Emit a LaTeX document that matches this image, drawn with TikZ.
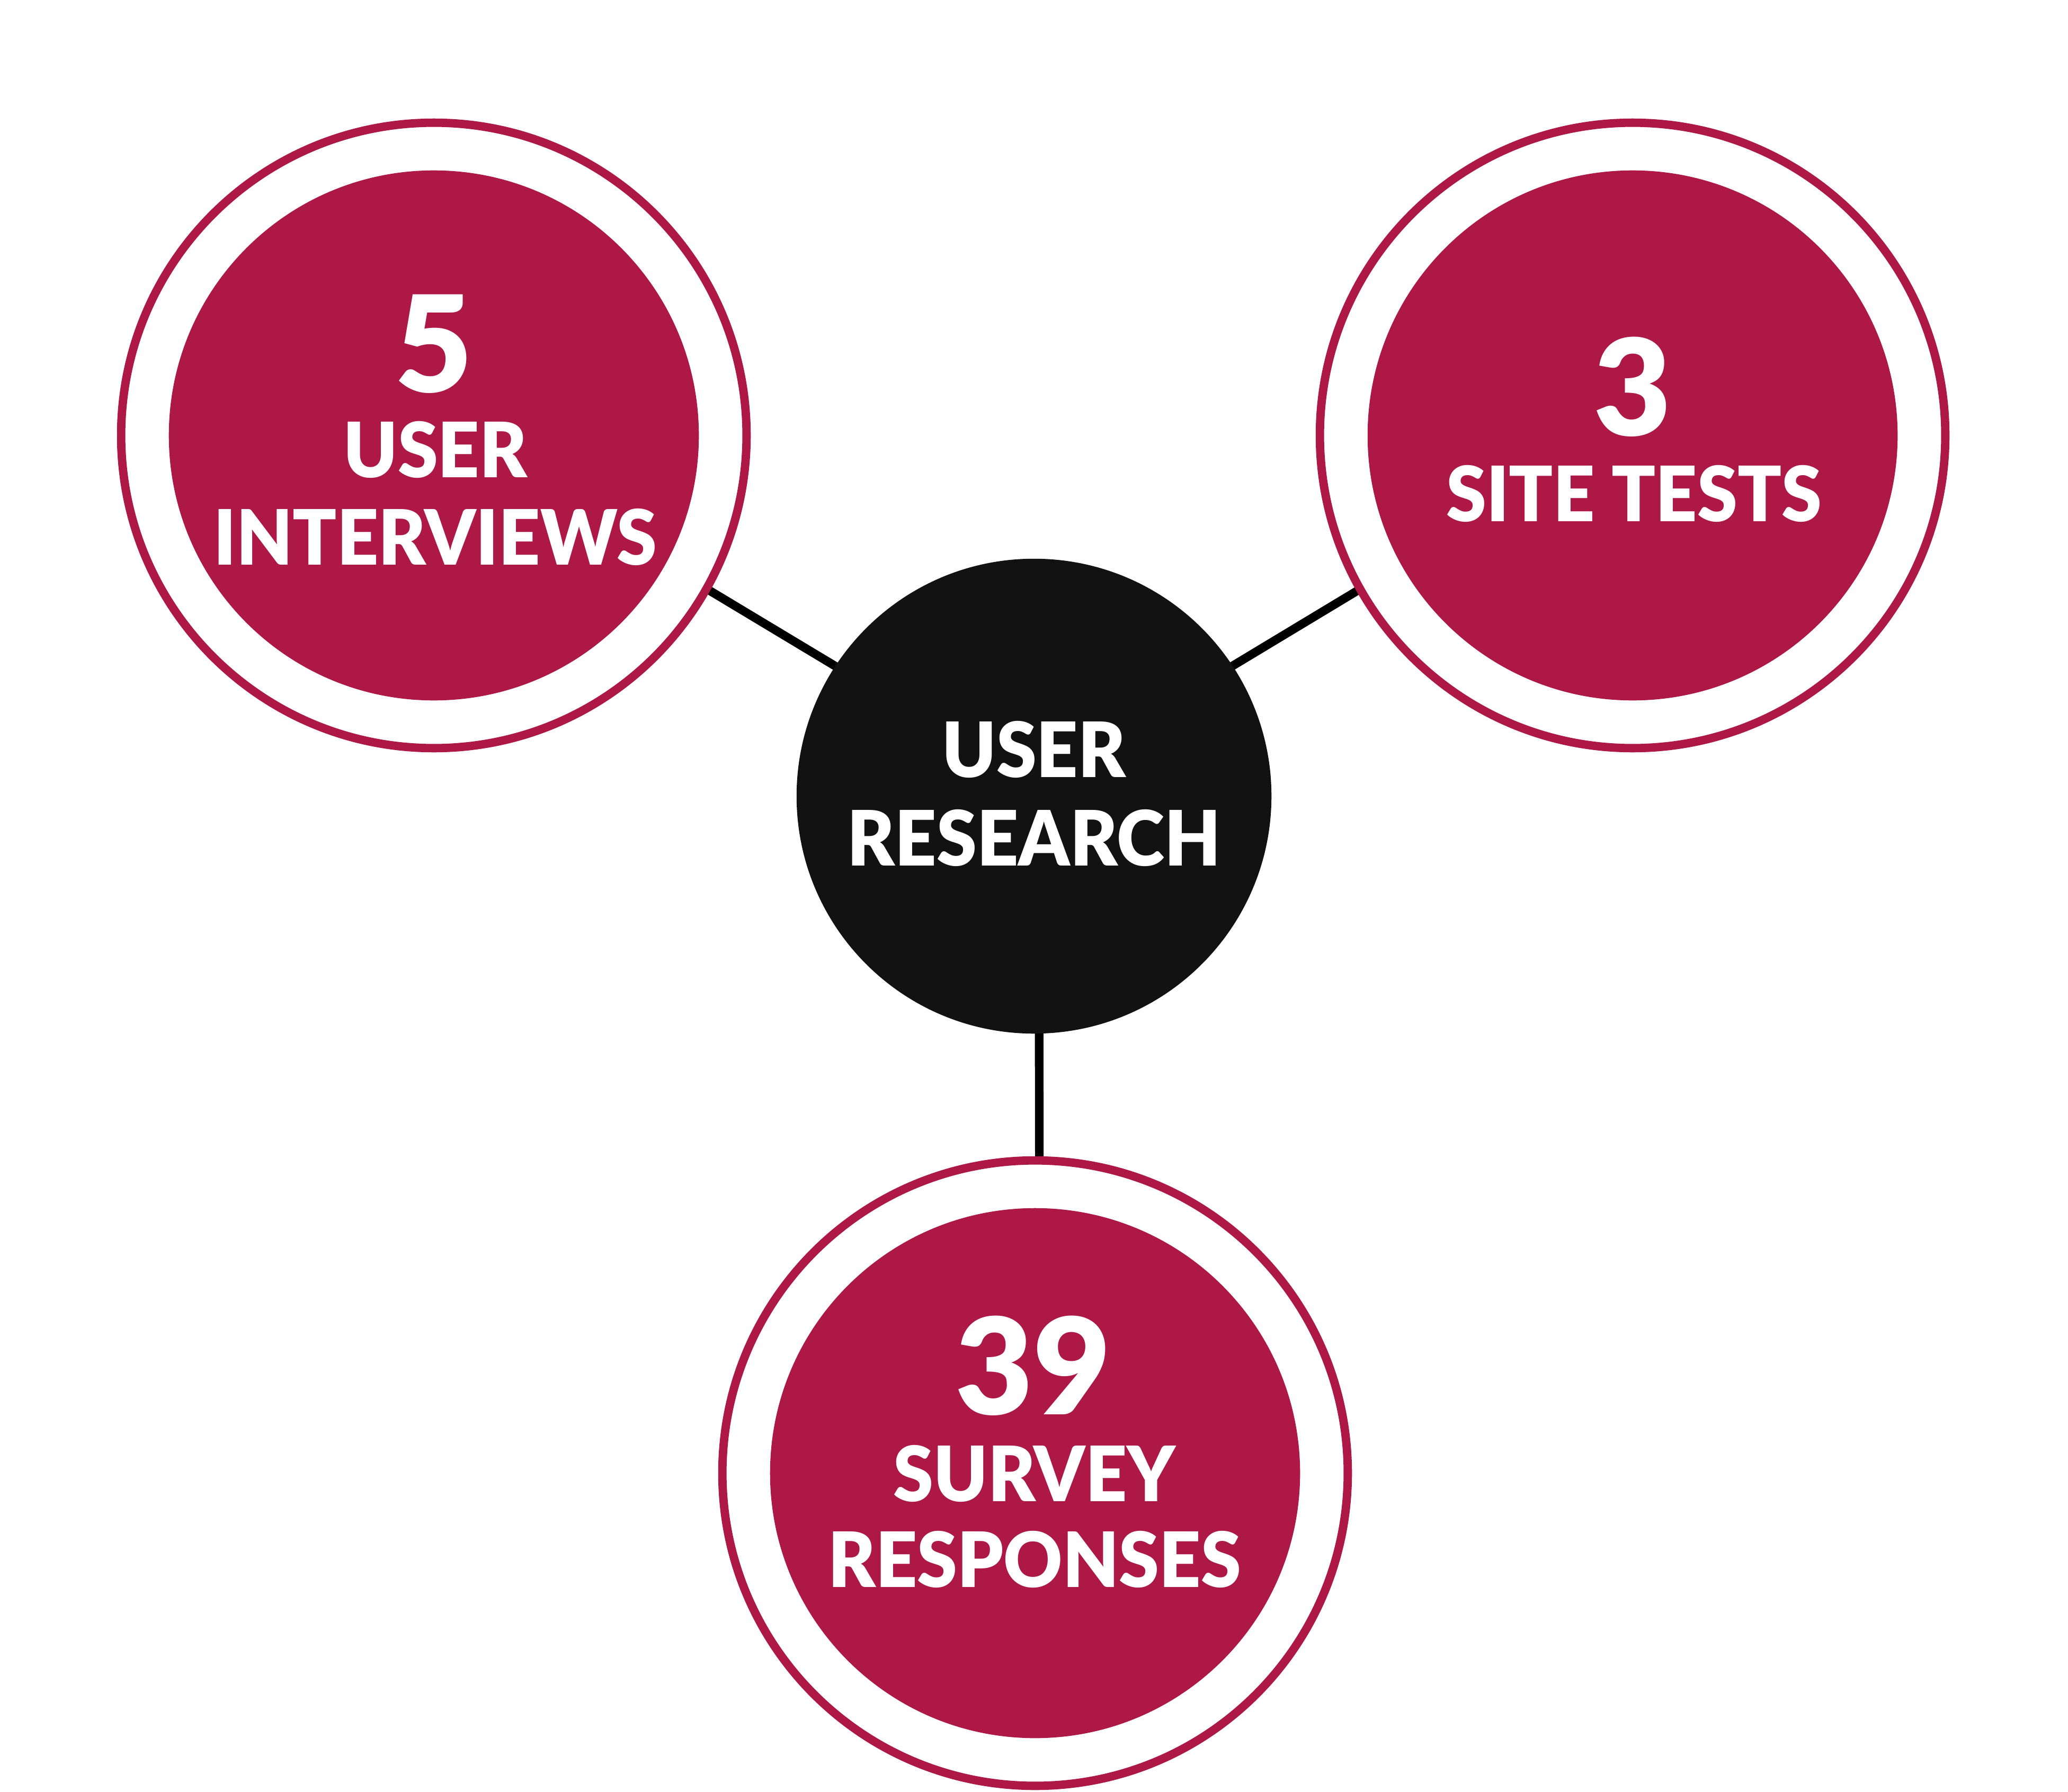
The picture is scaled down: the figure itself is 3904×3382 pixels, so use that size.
\documentclass[tikz,border=0pt]{standalone}
\usepackage{fontspec}
\setmainfont{Lato}[UprightFont=* Black, BoldFont=* Black]
\newfontfamily\lblfont{Lato}[UprightFont=* Black, BoldFont=* Black, FakeStretch=0.95]
\usetikzlibrary{backgrounds}
\definecolor{crim}{HTML}{AE1846}
\definecolor{ink}{HTML}{121212}
\begin{document}
\begin{tikzpicture}[x=0.01cm,y=-0.01cm,
 ring/.style={circle, draw=crim, line width=4.5pt, fill=white, minimum size=11.8cm, inner sep=0},
 disc/.style={circle, fill=crim, minimum size=10cm, inner sep=0},
 hub/.style={circle, fill=ink, minimum size=8.96cm, inner sep=0},
 link/.style={line width=4.6pt, black},
 big/.style={text=white, anchor=base, inner sep=0, font=\fontsize{72}{72}\selectfont},
 lbl/.style={text=white, anchor=base, inner sep=0, font=\lblfont\fontsize{41}{46}\selectfont}]
\useasboundingbox (0,0) rectangle (3904,3382);
% rings
\node[ring] (tl) at (819,822) {};
\node[ring] (tr) at (3082,822) {};
\node[ring] (bt) at (1954,2781) {};
\node[disc] (tld) at (819,822) {};
\node[disc] (trd) at (3082,822) {};
\node[disc] (btd) at (1954,2781) {};
\node[hub] (hub) at (1952,1503) {};
% connectors
\begin{scope}[on background layer]
\draw[link] ([yshift=0.2cm]tl.center) -- ([yshift=0.2cm]hub.center);
\draw[link] ([yshift=0.2cm]tr.center) -- ([yshift=0.2cm]hub.center);
\draw[link] ([xshift=0.09cm]bt.center) -- ([xshift=0.09cm]hub.center);
\end{scope}
% texts
\node[big] (n1) at (819,740) {5};
\node[lbl] (t1a) at (822,901) {USER};
\node[lbl] (t1b) at (822,1066) {INTERVIEWS};
\node[big] (n2) at (3082,822) {3};
\node[lbl] (t2a) at (3085,984) {SITE TESTS};
\node[lbl] (t3a) at (1952,1467) {USER};
\node[lbl] (t3b) at (1952,1634) {RESEARCH};
\node[big] (n4) at (1950,2670) {39};
\node[lbl] (t4a) at (1953,2834) {SURVEY};
\node[lbl] (t4b) at (1953,2996) {RESPONSES};
\end{tikzpicture}
\end{document}
